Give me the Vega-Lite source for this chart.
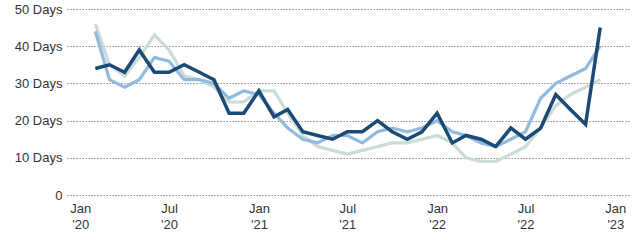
{
  "$schema": "https://vega.github.io/schema/vega-lite/v6.json",
  "width": 563,
  "height": 186,
  "autosize": {"type": "none"},
  "padding": {"left": 67, "top": 9, "right": 3, "bottom": 45},
  "background": "white",
  "config": {
    "view": {"stroke": null},
    "font": "Liberation Sans",
    "axis": {"labelFont": "Liberation Sans", "labelFontSize": 13, "labelColor": "#333333"}
  },
  "data": {
    "values": [
      {"date": "2020-02-01", "series": "A", "days": 46}, {"date": "2020-03-01", "series": "A", "days": 35}, {"date": "2020-04-01", "series": "A", "days": 32}, {"date": "2020-05-01", "series": "A", "days": 37}, {"date": "2020-06-01", "series": "A", "days": 43}, {"date": "2020-07-01", "series": "A", "days": 39}, {"date": "2020-08-01", "series": "A", "days": 32}, {"date": "2020-09-01", "series": "A", "days": 31}, {"date": "2020-10-01", "series": "A", "days": 29}, {"date": "2020-11-01", "series": "A", "days": 25}, {"date": "2020-12-01", "series": "A", "days": 25}, {"date": "2021-01-01", "series": "A", "days": 28}, {"date": "2021-02-01", "series": "A", "days": 28}, {"date": "2021-03-01", "series": "A", "days": 22}, {"date": "2021-04-01", "series": "A", "days": 16}, {"date": "2021-05-01", "series": "A", "days": 13}, {"date": "2021-06-01", "series": "A", "days": 12}, {"date": "2021-07-01", "series": "A", "days": 11}, {"date": "2021-08-01", "series": "A", "days": 12}, {"date": "2021-09-01", "series": "A", "days": 13}, {"date": "2021-10-01", "series": "A", "days": 14}, {"date": "2021-11-01", "series": "A", "days": 14}, {"date": "2021-12-01", "series": "A", "days": 15}, {"date": "2022-01-01", "series": "A", "days": 16}, {"date": "2022-02-01", "series": "A", "days": 14}, {"date": "2022-03-01", "series": "A", "days": 10}, {"date": "2022-04-01", "series": "A", "days": 9}, {"date": "2022-05-01", "series": "A", "days": 9}, {"date": "2022-06-01", "series": "A", "days": 11}, {"date": "2022-07-01", "series": "A", "days": 13}, {"date": "2022-08-01", "series": "A", "days": 18}, {"date": "2022-09-01", "series": "A", "days": 24}, {"date": "2022-10-01", "series": "A", "days": 27}, {"date": "2022-11-01", "series": "A", "days": 29}, {"date": "2022-12-01", "series": "A", "days": 31},
      {"date": "2020-02-01", "series": "B", "days": 44}, {"date": "2020-03-01", "series": "B", "days": 31}, {"date": "2020-04-01", "series": "B", "days": 29}, {"date": "2020-05-01", "series": "B", "days": 31}, {"date": "2020-06-01", "series": "B", "days": 37}, {"date": "2020-07-01", "series": "B", "days": 36}, {"date": "2020-08-01", "series": "B", "days": 31}, {"date": "2020-09-01", "series": "B", "days": 31}, {"date": "2020-10-01", "series": "B", "days": 30}, {"date": "2020-11-01", "series": "B", "days": 26}, {"date": "2020-12-01", "series": "B", "days": 28}, {"date": "2021-01-01", "series": "B", "days": 27}, {"date": "2021-02-01", "series": "B", "days": 22}, {"date": "2021-03-01", "series": "B", "days": 18}, {"date": "2021-04-01", "series": "B", "days": 15}, {"date": "2021-05-01", "series": "B", "days": 14}, {"date": "2021-06-01", "series": "B", "days": 16}, {"date": "2021-07-01", "series": "B", "days": 16}, {"date": "2021-08-01", "series": "B", "days": 14}, {"date": "2021-09-01", "series": "B", "days": 17}, {"date": "2021-10-01", "series": "B", "days": 18}, {"date": "2021-11-01", "series": "B", "days": 17}, {"date": "2021-12-01", "series": "B", "days": 18}, {"date": "2022-01-01", "series": "B", "days": 20}, {"date": "2022-02-01", "series": "B", "days": 17}, {"date": "2022-03-01", "series": "B", "days": 16}, {"date": "2022-04-01", "series": "B", "days": 14}, {"date": "2022-05-01", "series": "B", "days": 13}, {"date": "2022-06-01", "series": "B", "days": 15}, {"date": "2022-07-01", "series": "B", "days": 17}, {"date": "2022-08-01", "series": "B", "days": 26}, {"date": "2022-09-01", "series": "B", "days": 30}, {"date": "2022-10-01", "series": "B", "days": 32}, {"date": "2022-11-01", "series": "B", "days": 34}, {"date": "2022-12-01", "series": "B", "days": 40},
      {"date": "2020-02-01", "series": "C", "days": 34}, {"date": "2020-03-01", "series": "C", "days": 35}, {"date": "2020-04-01", "series": "C", "days": 33}, {"date": "2020-05-01", "series": "C", "days": 39}, {"date": "2020-06-01", "series": "C", "days": 33}, {"date": "2020-07-01", "series": "C", "days": 33}, {"date": "2020-08-01", "series": "C", "days": 35}, {"date": "2020-09-01", "series": "C", "days": 33}, {"date": "2020-10-01", "series": "C", "days": 31}, {"date": "2020-11-01", "series": "C", "days": 22}, {"date": "2020-12-01", "series": "C", "days": 22}, {"date": "2021-01-01", "series": "C", "days": 28}, {"date": "2021-02-01", "series": "C", "days": 21}, {"date": "2021-03-01", "series": "C", "days": 23}, {"date": "2021-04-01", "series": "C", "days": 17}, {"date": "2021-05-01", "series": "C", "days": 16}, {"date": "2021-06-01", "series": "C", "days": 15}, {"date": "2021-07-01", "series": "C", "days": 17}, {"date": "2021-08-01", "series": "C", "days": 17}, {"date": "2021-09-01", "series": "C", "days": 20}, {"date": "2021-10-01", "series": "C", "days": 17}, {"date": "2021-11-01", "series": "C", "days": 15}, {"date": "2021-12-01", "series": "C", "days": 17}, {"date": "2022-01-01", "series": "C", "days": 22}, {"date": "2022-02-01", "series": "C", "days": 14}, {"date": "2022-03-01", "series": "C", "days": 16}, {"date": "2022-04-01", "series": "C", "days": 15}, {"date": "2022-05-01", "series": "C", "days": 13}, {"date": "2022-06-01", "series": "C", "days": 18}, {"date": "2022-07-01", "series": "C", "days": 15}, {"date": "2022-08-01", "series": "C", "days": 18}, {"date": "2022-09-01", "series": "C", "days": 27}, {"date": "2022-10-01", "series": "C", "days": 23}, {"date": "2022-11-01", "series": "C", "days": 19}, {"date": "2022-12-01", "series": "C", "days": 45}
    ]
  },
  "encoding": {
    "x": {
      "field": "date",
      "type": "temporal",
      "scale": {
        "type": "utc",
        "domain": [
          {"year": 2019, "month": 12, "date": 5, "utc": true},
          {"year": 2023, "month": 1, "date": 31, "utc": true}
        ]
      },
      "axis": {
        "title": null,
        "grid": false,
        "domain": false,
        "ticks": false,
        "labelPadding": 7,
        "labelLineHeight": 16,
        "labelAlign": "center",
        "labelBaseline": "top",
        "labelFlush": false,
        "labelOverlap": false,
        "values": [
          {"year": 2020, "month": 1, "date": 1, "utc": true},
          {"year": 2020, "month": 7, "date": 1, "utc": true},
          {"year": 2021, "month": 1, "date": 1, "utc": true},
          {"year": 2021, "month": 7, "date": 1, "utc": true},
          {"year": 2022, "month": 1, "date": 1, "utc": true},
          {"year": 2022, "month": 7, "date": 1, "utc": true},
          {"year": 2023, "month": 1, "date": 1, "utc": true}
        ],
        "labelExpr": "[utcFormat(datum.value, '%b'), \"'\" + utcFormat(datum.value, '%y')]"
      }
    },
    "y": {
      "field": "days",
      "type": "quantitative",
      "scale": {"domain": [0, 50], "nice": false},
      "axis": {
        "title": null,
        "values": [0, 10, 20, 30, 40, 50],
        "domain": false,
        "ticks": false,
        "labelPadding": 5,
        "grid": true,
        "gridColor": "#707070",
        "gridDash": [1.2, 1.8],
        "gridWidth": 1.2,
        "labelExpr": "datum.value == 0 ? '0' : datum.value + ' Days'"
      }
    }
  },
  "layer": [
    {
      "transform": [{"filter": "datum.series == 'A'"}],
      "mark": {"type": "line", "color": "#cadcd6", "strokeWidth": 3.2, "clip": false}
    },
    {
      "transform": [{"filter": "datum.series == 'B'"}],
      "mark": {"type": "line", "color": "#92badf", "strokeWidth": 3.2, "clip": false}
    },
    {
      "transform": [{"filter": "datum.series == 'C'"}],
      "mark": {"type": "line", "color": "#1b4a74", "strokeWidth": 3.5, "clip": false}
    }
  ]
}
